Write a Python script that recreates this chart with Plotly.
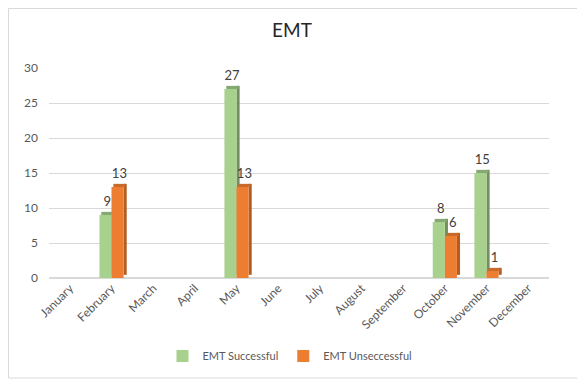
import plotly.graph_objects as go

months = ["January", "February", "March", "April", "May", "June", "July",
          "August", "September", "October", "November", "December"]
successful = [0, 9, 0, 0, 27, 0, 0, 0, 0, 8, 15, 0]
unsuccessful = [0, 13, 0, 0, 13, 0, 0, 0, 0, 6, 1, 0]

GREEN, GREEN_SIDE, GREEN_TOP = "#a9d18e", "#71905e", "#86a872"
ORANGE, ORANGE_SIDE, ORANGE_TOP = "#ed7d31", "#b35d23", "#c9692a"
FONT = "Lato, Calibri, 'Liberation Sans', sans-serif"

W = 0.29      # front face width (category units)
D = 0.075     # depth offset
H = 0.45      # depth rise (value units)

# The page body has an 8px margin: size the figure to fit the window and
# place everything 8px up/left of its position in the reference.
SH = 8
FW, FH = 585 - SH, 383 - SH
L, T = 49 - SH, 68 - SH
PW, PH = 500, 210
R, B = FW - L - PW, FH - T - PH

def nz(vals):
    return [v if v else None for v in vals]

fig = go.Figure()

def add_series(vals, name, front, side, top, off):
    # side face
    fig.add_trace(go.Bar(x=months, y=nz(vals), base=H, offset=off + W, width=D,
                         marker=dict(color=side, line=dict(width=0)),
                         showlegend=False, hoverinfo="skip"))
    # front face
    fig.add_trace(go.Bar(x=months, y=vals, offset=off, width=W, name=name,
                         marker=dict(color=front, line=dict(width=0)),
                         hoverinfo="x+y"))
    # top face (carries the data label)
    fig.add_trace(go.Bar(x=months, y=[H if v else None for v in vals], base=nz(vals),
                         offset=off + D * 0.6, width=W,
                         marker=dict(color=top, line=dict(width=0)),
                         text=[str(v) if v else "" for v in vals], textposition="outside",
                         constraintext="none",
                         textfont=dict(size=13, color="#404040", family=FONT),
                         cliponaxis=False, showlegend=False, hoverinfo="skip"))

add_series(successful, "EMT Successful", GREEN, GREEN_SIDE, GREEN_TOP, -W)
add_series(unsuccessful, "EMT Unseccessful", ORANGE, ORANGE_SIDE, ORANGE_TOP, 0)

fig.update_layout(
    width=FW, height=FH,
    margin=dict(l=L, r=R, t=T, b=B, autoexpand=False),
    paper_bgcolor="white", plot_bgcolor="white",
    barmode="overlay",
    uniformtext=dict(mode=False),
    font=dict(family=FONT, color="#595959"),
    title=dict(text="EMT", x=(292 - SH) / FW, xanchor="center",
               y=1 - (30 - SH) / FH, yanchor="middle",
               font=dict(size=19, color="#262626", family=FONT)),
    showlegend=True,
    legend=dict(orientation="h", x=(290 - 49) / PW, xanchor="center",
                y=(278 - 356) / PH, yanchor="middle",
                font=dict(size=11, color="#595959", family=FONT),
                itemwidth=30, traceorder="normal"),
)
fig.update_xaxes(showgrid=False, zeroline=False, showline=False, tickangle=-45,
                 tickfont=dict(size=12, color="#595959", family=FONT), ticks="",
                 automargin=False)
fig.update_yaxes(range=[0, 30], dtick=5, showgrid=True, gridcolor="#d9d9d9", gridwidth=1,
                 zeroline=True, zerolinecolor="#d9d9d9", showline=False, ticks="",
                 ticklabelstandoff=10, automargin=False,
                 tickfont=dict(size=12, color="#595959", family=FONT))

# chart border (light grey frame around the whole chart)
fig.add_shape(type="rect", xref="paper", yref="paper",
              x0=(0.5 - L) / PW, x1=(580 - SH - L) / PW,
              y0=(T + PH - (378 - SH)) / PH, y1=(T + PH - 0.5) / PH,
              line=dict(color="#d9d9d9", width=1), layer="below")

fig.write_html("out.html")
